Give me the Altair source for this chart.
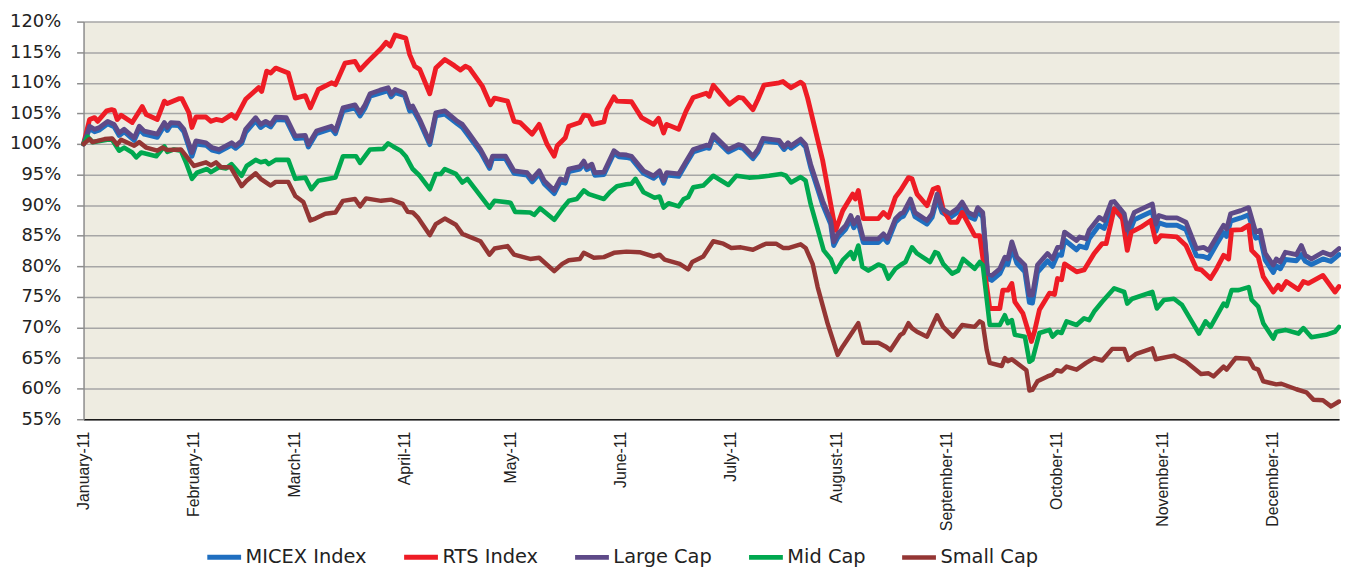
import altair as alt
import pandas as pd

series_names = ["MICEX Index", "RTS Index", "Large Cap", "Mid Cap", "Small Cap"]
series_colors = ["#1F6FC0", "#EE1C25", "#5E4A88", "#00A84F", "#943634"]
series_widths = [5, 4.5, 5, 3, 3.5]

month_ticks = [0, 22, 42, 64, 85, 107, 129, 150, 172, 194, 215, 237]
month_labels = ["January-11", "February-11", "March-11", "April-11", "May-11", "June-11",
                "July-11", "August-11", "September-11", "October-11", "November-11", "December-11"]
y_ticks = [55, 60, 65, 70, 75, 80, 85, 90, 95, 100, 105, 110, 115, 120]

# RTS Index (trading-day index, % of start)
rts_days = [0, 1.2, 2.2, 2.8, 4.6, 5.6, 6.1, 6.7, 7.5, 9.7, 11.7, 12.5, 14.7, 16.1, 16.7, 19.0, 19.6,
            21.0, 21.6, 22.4, 24.4, 25.4, 26.4, 27.6, 29.5, 30.3, 32.3, 34.9, 35.5, 36.5, 37.3, 38.3,
            40.8, 42.2, 44.2, 45.2, 46.8, 49.4, 50.2, 52.1, 54.1, 55.1, 56.7, 59.3, 60.3, 61.1, 62.1,
            64.2, 65.0, 66.0, 67.0, 69.0, 70.2, 72.0, 73.9, 75.1, 76.1, 76.9, 79.5, 81.1, 81.9, 84.5,
            85.8, 87.0, 89.4, 90.8, 92.4, 93.8, 94.4, 96.0, 96.7, 98.9, 99.7, 100.7, 101.5, 103.7,
            104.3, 105.7, 106.3, 109.2, 111.2, 113.6, 114.6, 115.6, 116.2, 118.6, 120.1, 121.5, 124.1,
            124.7, 125.5, 128.7, 130.5, 131.4, 133.4, 134.4, 135.6, 138.6, 139.4, 140.0, 141.0, 142.9,
            143.5, 144.3, 147.3, 149.5, 149.9, 151.3, 153.3, 153.8, 154.4, 155.4, 158.4, 159.4, 160.4,
            161.8, 162.8, 164.4, 165.1, 166.1, 168.1, 169.3, 170.3, 171.3, 172.7, 174.1, 175.1, 177.6,
            178.6, 180.6, 182.6, 183.2, 184.2, 185.0, 185.6, 187.2, 188.9, 189.5, 190.5, 192.5, 193.5,
            194.1, 194.9, 195.5, 197.9, 199.4, 201.4, 203.0, 203.8, 205.4, 207.0, 208.0, 208.8, 210.7,
            212.7, 213.7, 214.7, 217.9, 219.7, 221.8, 222.8, 224.6, 225.8, 227.2, 228.2, 228.8, 230.8,
            232.2, 232.8, 234.1, 235.1, 237.1, 238.1, 238.7, 239.7, 242.1, 243.1, 244.1, 247.0, 249.4,
            250.2]
rts_vals = [100, 104.0, 104.3, 103.7, 105.4, 105.6, 105.5, 104.0, 104.7, 103.5, 106.1, 104.8, 104.0,
            107.0, 106.6, 107.4, 107.4, 105.1, 102.7, 104.4, 104.4, 103.7, 104.0, 103.8, 104.8, 104.2,
            107.3, 109.2, 108.6, 111.9, 111.6, 112.4, 111.6, 107.5, 107.9, 105.9, 108.9, 110.0, 109.7,
            113.2, 113.5, 112.1, 113.5, 115.6, 116.6, 116.0, 117.8, 117.3, 114.6, 112.7, 112.2, 108.2,
            112.4, 113.8, 112.8, 112.1, 112.7, 112.4, 109.4, 106.4, 107.5, 107.0, 103.7, 103.5, 101.6,
            103.2, 99.9, 98.0, 99.7, 101.0, 102.9, 103.5, 104.7, 104.6, 103.2, 103.6, 105.6, 107.7,
            107.0, 106.9, 104.3, 103.2, 104.2, 101.8, 103.2, 102.4, 105.4, 107.6, 108.3, 107.8, 109.6,
            106.5, 107.6, 107.5, 105.6, 107.3, 109.6, 110.0, 110.2, 109.8, 109.2, 110.1, 109.7, 107.5,
            97.3, 87.5, 85.9, 89.1, 91.8, 91.0, 92.4, 87.8, 87.8, 88.8, 88.0, 91.3, 92.4, 94.5, 94.3,
            91.8, 89.9, 92.6, 92.9, 89.4, 87.2, 87.2, 88.8, 85.0, 85.0, 73.1, 73.1, 76.1, 76.1, 77.2,
            74.2, 72.3, 67.7, 69.3, 72.9, 75.6, 75.4, 78.0, 77.8, 80.4, 79.1, 79.4, 82.1, 83.7, 83.7,
            89.4, 88.0, 82.6, 85.6, 86.4, 87.5, 84.0, 85.0, 84.8, 83.4, 79.6, 79.4, 78.0, 79.6, 81.8,
            81.2, 85.9, 86.0, 86.7, 82.6, 81.5, 78.3, 75.8, 76.9, 76.2, 77.5, 76.2, 77.5, 77.2, 78.5,
            75.8, 76.7]

# MICEX Index and Large Cap, read at the same positions
big_days = [0, 1.2, 2.2, 3.2, 4.8, 6.1, 7.1, 8.1, 10.1, 11.1, 12.1, 14.7, 16.1, 16.7, 17.4, 19.0, 20.0,
            21.6, 22.4, 24.4, 25.6, 27.0, 29.5, 30.3, 31.5, 32.3, 34.3, 35.3, 36.3, 37.3, 38.3, 40.4,
            42.2, 44.2, 44.8, 46.4, 49.4, 50.2, 51.7, 54.1, 55.1, 56.1, 57.1, 59.1, 60.7, 61.3, 62.1,
            64.0, 65.0, 65.6, 67.0, 69.0, 70.2, 72.0, 74.5, 75.5, 76.5, 79.1, 80.9, 81.5, 84.1, 85.8,
            88.4, 89.4, 90.8, 91.8, 93.8, 95.0, 96.0, 96.7, 98.9, 99.7, 100.3, 101.3, 101.9, 103.7,
            105.7, 106.7, 108.2, 109.2, 111.6, 113.6, 114.8, 115.6, 116.2, 118.6, 120.1, 121.5, 124.1,
            124.7, 125.5, 128.5, 130.5, 131.4, 133.4, 134.4, 135.4, 138.6, 139.6, 140.4, 141.0, 142.9,
            143.9, 144.9, 147.3, 148.9, 149.5, 150.3, 151.9, 152.9, 153.5, 154.3, 155.4, 158.4, 159.4,
            160.2, 161.8, 162.8, 163.4, 164.8, 165.7, 168.1, 169.1, 170.1, 171.1, 172.7, 174.1, 175.1,
            176.3, 177.6, 178.2, 179.2, 180.2, 181.0, 182.6, 183.6, 184.2, 185.0, 186.0, 187.6, 188.5,
            189.1, 190.1, 192.1, 193.1, 194.1, 194.9, 195.5, 197.9, 198.5, 199.8, 200.4, 202.4, 203.4,
            204.8, 205.4, 207.4, 208.0, 209.4, 211.4, 213.0, 213.7, 214.3, 215.9, 217.9, 219.7, 221.8,
            223.2, 224.2, 225.8, 227.2, 227.8, 228.6, 230.6, 232.2, 233.6, 234.5, 235.5, 237.1, 237.7,
            238.5, 239.5, 241.7, 242.7, 243.5, 244.7, 247.0, 248.6, 250.2]
large_vals = [100, 102.9, 102.4, 102.7, 103.7, 103.2, 101.8, 102.4, 101.0, 102.9, 102.1, 101.6, 103.5,
              102.7, 103.5, 103.4, 102.4, 98.6, 100.5, 100.2, 99.4, 99.1, 100.2, 99.7, 100.5, 102.4,
              104.3, 103.2, 103.7, 103.2, 104.4, 104.3, 101.3, 101.4, 99.9, 102.1, 102.9, 102.1, 105.9,
              106.4, 105.1, 106.4, 108.2, 108.8, 109.2, 108.1, 108.9, 108.3, 105.9, 106.2, 104.0, 100.3,
              105.1, 105.4, 103.7, 103.2, 102.1, 99.1, 96.4, 98.0, 98.0, 95.6, 95.3, 94.3, 95.6, 94.0,
              92.4, 94.3, 94.0, 95.9, 96.3, 97.2, 96.2, 96.7, 95.3, 95.4, 98.9, 98.3, 98.2, 98.0, 95.6,
              94.8, 95.6, 94.0, 95.3, 95.1, 97.2, 99.1, 99.8, 99.7, 101.5, 99.1, 99.9, 99.7, 98.0, 99.1,
              100.9, 100.6, 99.5, 100.2, 99.7, 100.8, 99.9, 96.7, 90.7, 87.5, 84.0, 85.3, 86.7, 88.3,
              86.9, 88.0, 84.5, 84.5, 85.3, 84.5, 87.8, 88.6, 88.8, 91.0, 88.8, 87.5, 88.6, 91.8, 89.4,
              88.6, 89.4, 90.5, 88.8, 88.3, 89.6, 88.8, 78.8, 78.5, 79.6, 81.5, 81.2, 84.0, 81.5, 80.2,
              75.3, 75.3, 80.2, 82.1, 81.2, 83.1, 83.1, 85.6, 84.2, 84.8, 84.5, 85.9, 88.0, 87.5, 90.5,
              90.6, 88.6, 85.9, 88.8, 89.6, 90.2, 86.9, 88.3, 87.9, 87.9, 87.2, 82.9, 83.1, 82.6, 84.8,
              86.7, 86.1, 88.6, 89.1, 89.6, 85.6, 85.9, 82.1, 80.2, 81.2, 80.7, 82.3, 81.9, 83.4, 81.8,
              81.2, 82.3, 81.8, 82.9]
micex_vals = [100, 102.5, 102.0, 102.3, 103.3, 102.8, 101.4, 102.0, 100.6, 102.4, 101.6, 101.1, 103.0,
              102.2, 103.1, 103.0, 102.0, 98.0, 100.0, 99.8, 99.0, 98.7, 99.8, 99.3, 100.1, 101.9,
              103.8, 102.7, 103.3, 102.8, 104.0, 103.9, 100.9, 101.0, 99.5, 101.7, 102.5, 101.7, 105.4,
              105.9, 104.6, 105.9, 107.8, 108.3, 108.7, 107.7, 108.4, 107.9, 105.4, 105.7, 103.6, 99.9,
              104.6, 104.9, 103.3, 102.7, 101.6, 98.7, 96.0, 97.6, 97.6, 95.2, 94.9, 93.8, 95.1, 93.5,
              91.9, 93.8, 93.6, 95.5, 95.9, 96.8, 95.8, 96.3, 94.9, 95.0, 98.5, 97.9, 97.8, 97.6, 95.2,
              94.4, 95.2, 93.6, 94.9, 94.7, 96.8, 98.7, 99.4, 99.3, 101.1, 98.7, 99.5, 99.3, 97.6, 98.7,
              100.5, 100.2, 99.1, 99.8, 99.3, 100.4, 99.5, 96.2, 90.1, 86.9, 83.4, 84.7, 86.1, 87.7,
              86.3, 87.4, 83.9, 83.9, 84.7, 83.9, 87.2, 88.0, 88.2, 90.3, 88.1, 86.9, 88.0, 91.1, 88.8,
              88.0, 88.8, 89.9, 88.2, 87.7, 89.0, 88.1, 78.0, 77.7, 78.8, 80.6, 80.3, 83.0, 80.5, 79.1,
              74.1, 74.0, 79.0, 80.9, 80.0, 81.9, 81.8, 84.3, 82.7, 83.3, 83.0, 84.5, 86.7, 86.2, 89.2,
              89.4, 87.4, 84.7, 87.6, 88.4, 89.0, 85.7, 87.1, 86.7, 86.7, 86.0, 81.7, 81.6, 81.3, 83.6,
              85.5, 84.9, 87.4, 87.9, 88.4, 84.6, 84.8, 81.0, 79.0, 80.1, 79.6, 81.1, 80.9, 81.9, 80.8,
              80.3, 81.2, 80.8, 81.9]

# Mid Cap
mid_days = [0, 0.8, 1.8, 5.6, 7.1, 8.1, 9.7, 10.5, 11.5, 14.5, 16.1, 16.7, 18.0, 19.4, 20.4, 21.6, 22.6,
            24.6, 25.4, 27.0, 28.4, 29.5, 31.5, 32.5, 34.3, 35.3, 36.3, 36.9, 38.3, 40.8, 42.2, 44.2,
            45.4, 46.8, 50.2, 51.7, 54.3, 55.1, 56.1, 57.1, 59.7, 60.7, 61.7, 63.2, 64.2, 65.6, 67.0,
            69.0, 70.2, 71.2, 72.0, 74.2, 75.5, 76.5, 79.1, 80.9, 81.9, 85.1, 86.0, 89.0, 89.8, 91.0,
            93.8, 95.4, 96.7, 98.3, 99.7, 100.7, 103.7, 104.9, 106.3, 108.2, 109.2, 110.0, 111.6, 113.8,
            114.8, 115.6, 116.6, 118.6, 119.6, 120.5, 121.5, 123.5, 125.5, 128.5, 130.1, 132.6, 134.6,
            136.6, 139.0, 140.0, 141.0, 142.9, 143.9, 144.9, 147.5, 148.9, 149.9, 151.3, 152.9, 153.5,
            154.4, 155.2, 156.4, 158.4, 159.4, 160.4, 161.8, 162.8, 163.8, 165.1, 166.1, 168.7, 169.7,
            170.3, 171.3, 173.1, 174.3, 175.3, 177.6, 178.6, 179.2, 180.6, 182.6, 183.6, 184.2, 185.0,
            185.6, 187.6, 188.5, 189.1, 190.5, 192.5, 193.1, 194.1, 194.9, 195.9, 197.9, 199.4, 200.4,
            201.4, 203.0, 205.4, 207.4, 208.0, 209.0, 213.0, 213.9, 215.3, 217.3, 218.9, 222.3, 223.6,
            224.6, 227.2, 227.8, 228.8, 230.2, 232.2, 232.8, 234.1, 235.1, 237.1, 237.7, 239.5, 242.1,
            243.1, 244.7, 247.6, 249.4, 250.2]
mid_vals = [100, 101.2, 100.3, 100.8, 98.9, 99.4, 98.6, 97.8, 98.6, 98.0, 99.6, 98.7, 99.1, 98.9, 97.0,
            94.3, 95.3, 95.9, 95.4, 96.2, 96.0, 96.7, 94.8, 96.4, 97.4, 97.0, 97.2, 96.7, 97.4, 97.4,
            94.3, 94.5, 92.6, 94.0, 94.5, 98.0, 98.0, 96.9, 98.0, 99.1, 99.2, 100.1, 99.6, 98.9, 98.0,
            95.9, 94.8, 92.6, 95.1, 95.1, 95.9, 95.1, 93.7, 94.3, 91.5, 89.6, 90.7, 90.4, 88.9, 88.8,
            88.4, 89.5, 87.6, 89.4, 90.7, 91.0, 92.4, 91.8, 91.0, 92.1, 93.1, 93.4, 93.5, 94.3, 92.1,
            91.2, 91.4, 89.6, 90.3, 89.8, 91.0, 91.3, 92.9, 93.2, 94.8, 93.3, 94.8, 94.5, 94.6, 94.8,
            95.1, 94.8, 93.7, 94.6, 94.0, 90.2, 82.6, 81.2, 79.1, 81.0, 82.3, 81.2, 83.4, 79.9, 79.3,
            80.3, 80.0, 78.0, 79.6, 80.2, 80.7, 83.1, 82.1, 80.7, 82.3, 82.1, 80.4, 78.8, 79.3, 81.2,
            79.6, 80.7, 80.2, 70.4, 70.4, 72.0, 70.7, 71.2, 68.8, 68.5, 64.4, 64.7, 69.1, 69.6, 68.5,
            69.3, 69.1, 71.0, 70.4, 71.5, 71.2, 72.6, 74.2, 76.4, 75.8, 73.9, 74.7, 75.8, 73.1, 74.5,
            74.7, 73.7, 69.0, 71.0, 70.1, 73.9, 73.5, 76.1, 76.1, 76.6, 74.5, 73.4, 70.7, 68.2, 69.3,
            69.6, 69.0, 69.9, 68.4, 68.8, 69.3, 70.1]

# Small Cap
small_days = [0, 1.2, 1.8, 4.2, 5.7, 6.7, 7.5, 10.1, 11.1, 12.5, 14.7, 15.7, 16.7, 19.4, 22.0, 24.4,
              25.4, 26.4, 27.4, 29.3, 31.5, 32.5, 34.3, 35.3, 37.3, 38.3, 40.8, 42.2, 43.8, 45.2, 46.2,
              48.2, 50.2, 51.7, 54.1, 55.1, 56.3, 59.3, 61.3, 63.6, 64.6, 65.6, 66.6, 69.0, 70.2, 72.0,
              74.2, 75.5, 79.1, 80.9, 81.9, 84.5, 85.8, 89.0, 90.8, 93.8, 95.4, 96.7, 98.9, 99.7, 101.7,
              103.7, 105.7, 108.2, 110.8, 113.6, 114.8, 115.8, 118.8, 120.5, 121.3, 123.5, 125.5, 127.5,
              129.1, 131.0, 133.4, 136.0, 138.0, 139.4, 140.6, 142.9, 143.9, 145.3, 146.3, 148.3, 150.3,
              151.3, 154.4, 155.4, 158.4, 159.8, 160.8, 162.8, 163.4, 164.4, 165.1, 166.1, 168.1, 170.1,
              171.3, 173.3, 175.1, 177.6, 178.6, 179.2, 180.0, 180.6, 183.0, 183.6, 184.2, 185.0, 187.9,
              188.5, 189.1, 190.1, 192.1, 193.1, 193.9, 194.9, 195.9, 197.9, 199.8, 201.4, 203.0, 205.0,
              207.4, 208.2, 209.8, 213.0, 213.7, 217.3, 219.7, 222.7, 224.2, 225.2, 227.2, 227.8, 229.6,
              232.2, 233.2, 234.1, 235.1, 237.7, 238.7, 241.7, 243.7, 245.1, 247.0, 248.6, 250.2]
small_vals = [100, 100.8, 100.3, 100.8, 100.9, 99.9, 100.7, 99.7, 100.3, 99.4, 98.9, 99.4, 99.0, 99.1,
              96.4, 97.0, 96.5, 97.0, 96.2, 96.2, 93.1, 94.0, 95.2, 94.3, 93.2, 93.8, 93.8, 91.5, 90.5,
              87.5, 87.8, 88.6, 88.8, 90.7, 91.0, 89.8, 91.1, 90.7, 90.9, 90.2, 88.9, 88.8, 88.0, 85.1,
              86.9, 87.8, 86.8, 85.3, 84.1, 81.9, 82.9, 83.3, 81.9, 81.2, 81.4, 79.2, 80.4, 81.0, 81.2,
              82.2, 81.4, 81.5, 82.2, 82.4, 82.3, 81.6, 81.9, 81.1, 80.4, 79.5, 80.7, 81.6, 84.1, 83.7,
              83.0, 83.1, 82.7, 83.7, 83.7, 83.0, 83.0, 83.6, 83.0, 80.4, 76.6, 70.6, 65.5, 66.9, 70.7,
              67.5, 67.5, 66.9, 66.3, 68.8, 69.1, 70.7, 69.9, 69.3, 68.5, 72.0, 70.1, 68.5, 70.4, 70.1,
              71.0, 70.7, 66.3, 64.2, 63.7, 65.0, 64.5, 64.8, 63.0, 59.7, 59.8, 61.2, 62.0, 62.3, 63.0,
              62.8, 63.6, 63.1, 64.2, 65.0, 64.6, 66.5, 66.5, 64.7, 65.7, 66.6, 64.8, 65.4, 64.4, 62.4,
              62.5, 62.0, 63.6, 63.1, 65.0, 64.9, 63.4, 63.1, 61.2, 60.7, 60.8, 59.9, 59.4, 58.2, 58.1,
              57.1, 57.9]

rows = []
for name, days, vals in [
    ("MICEX Index", big_days, micex_vals),
    ("RTS Index", rts_days, rts_vals),
    ("Large Cap", big_days, large_vals),
    ("Mid Cap", mid_days, mid_vals),
    ("Small Cap", small_days, small_vals),
]:
    for d, v in zip(days, vals):
        rows.append({"series": name, "day": d, "value": v})
df = pd.DataFrame(rows)

label_expr = ("[" + ",".join("'" + m + "'" for m in month_labels) + "][indexof(["
              + ",".join(str(t) for t in month_ticks) + "], datum.value)]")

x_enc = alt.X("day:Q",
              scale=alt.Scale(domain=[0, 250.2], nice=False, zero=False),
              axis=alt.Axis(values=month_ticks, labelExpr=label_expr, labelAngle=-90,
                            labelPadding=12, ticks=False, grid=False, title=None,
                            domainColor="#1A1A1A", domainWidth=1.5,
                            labelFont="Liberation Sans", labelFontSize=16, labelColor="#222222"))
y_enc = alt.Y("value:Q",
              scale=alt.Scale(domain=[55, 120], nice=False, zero=False),
              axis=alt.Axis(values=y_ticks, labelExpr="datum.value + '%'", title=None,
                            grid=True, gridColor="#A6A6A6", gridWidth=1.5,
                            domainColor="#8C8C8C", domainWidth=1.5,
                            tickColor="#8C8C8C", tickSize=7, tickWidth=1.5, labelPadding=16,
                            labelFont="DejaVu Sans", labelFontSize=18, labelColor="#222222"))
color_enc = alt.Color("series:N",
                      scale=alt.Scale(domain=series_names, range=series_colors),
                      legend=alt.Legend(title=None, orient="none", legendX=122, legendY=519,
                                        direction="horizontal", columns=5,
                                        symbolType="stroke", symbolSize=1156, symbolStrokeWidth=4,
                                        labelFont="DejaVu Sans", labelFontSize=19.5,
                                        labelColor="#222222", labelOffset=2, columnPadding=27))
width_enc = alt.StrokeWidth("series:N",
                            scale=alt.Scale(domain=series_names, range=series_widths),
                            legend=None)

layers = []
for name in series_names:
    layers.append(
        alt.Chart(df)
        .transform_filter(alt.datum.series == name)
        .mark_line(strokeJoin="round", strokeCap="round")
        .encode(x=x_enc, y=y_enc, color=color_enc, strokeWidth=width_enc)
    )

chart = (
    alt.layer(*layers)
    .properties(width=1263, height=400,
                autosize=alt.AutoSizeParams(type="none"),
                padding={"left": 76, "top": 12, "right": 2, "bottom": 151})
    .configure_view(fill="#EEECE1", stroke="transparent")
)

chart.save("out.html", embed_options={"renderer": "svg", "actions": False})
